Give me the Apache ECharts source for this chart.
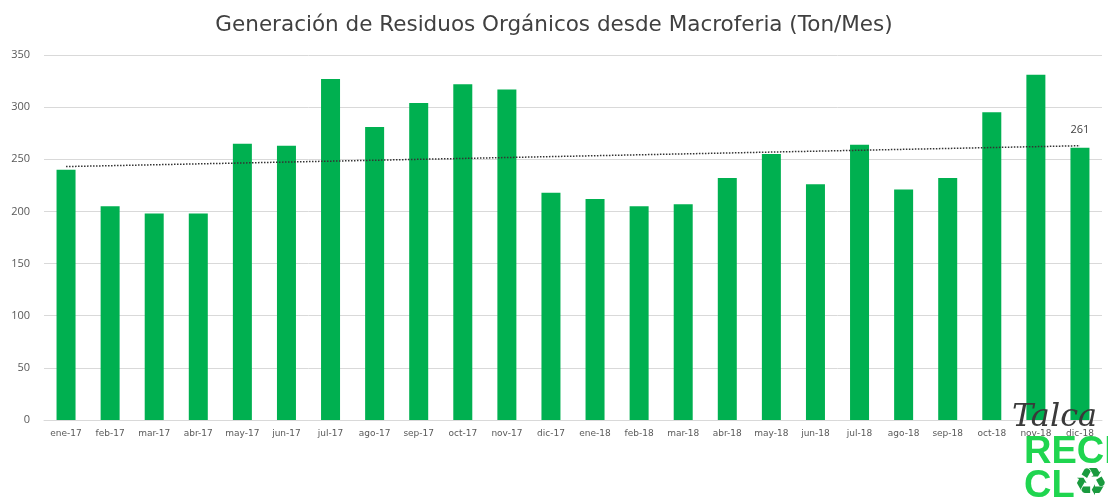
<!DOCTYPE html>
<html>
<head>
<meta charset="utf-8">
<script src="https://cdn.jsdelivr.net/npm/echarts@6/dist/echarts.min.js"></script>
<style>
  html, body { margin: 0; padding: 0; background: #fff; }
  #chart { width: 1108px; height: 504px; }
</style>
</head>
<body>
<div id="chart"></div>
<script>
// categorias (meses)
var months = ['ene-17', 'feb-17', 'mar-17', 'abr-17', 'may-17', 'jun-17', 'jul-17', 'ago-17',
  'sep-17', 'oct-17', 'nov-17', 'dic-17', 'ene-18', 'feb-18', 'mar-18', 'abr-18',
  'may-18', 'jun-18', 'jul-18', 'ago-18', 'sep-18', 'oct-18', 'nov-18', 'dic-18'];

// toneladas por mes
var tons = [240, 205, 198, 198, 265, 263, 327, 281, 304, 322, 317, 218,
  212, 205, 207, 232, 255, 226, 264, 221, 232, 295, 331, 261];

// linea de tendencia (inicio / fin)
var trendEnds = [243, 263];

var yTicks = { min: 0, max: 350, step: 50 };

var chart = echarts.init(document.getElementById('chart'));

var option = {
  animation: false,
  backgroundColor: '#fff',
  title: {
    text: 'Generación de Residuos Orgánicos desde Macroferia (Ton/Mes)',
    left: 'center',
    top: 9,
    textStyle: {
      fontFamily: 'DejaVu Sans',
      fontSize: 21.5,
      fontWeight: 'normal',
      color: '#404040'
    }
  },
  grid: {
    left: 44,
    right: 6,
    top: 55,
    bottom: 84,
    containLabel: false
  },
  xAxis: {
    type: 'category',
    data: months,
    axisLine: { lineStyle: { color: '#d9d9d9', width: 1 } },
    axisTick: { show: false },
    axisLabel: {
      interval: 0,
      fontSize: 9,
      fontFamily: 'DejaVu Sans',
      color: '#595959',
      margin: 9
    }
  },
  yAxis: {
    type: 'value',
    min: yTicks.min,
    max: yTicks.max,
    interval: yTicks.step,
    axisLine: { show: false },
    axisTick: { show: false },
    splitLine: { lineStyle: { color: '#d9d9d9', width: 1 } },
    axisLabel: {
      fontSize: 11,
      fontFamily: 'Open Sans',
      color: '#595959',
      margin: 14
    }
  },
  series: [{
    type: 'bar',
    data: tons.map(function (v, i) {
      return {
        value: v,
        label: { show: i === tons.length - 1 }
      };
    }),
    barWidth: 19,
    itemStyle: { color: '#00b050' },
    label: {
      position: 'top',
      fontSize: 11,
      fontFamily: 'Open Sans',
      color: '#404040',
      distance: 12
    },
    markLine: {
      silent: true,
      symbol: 'none',
      label: { show: false },
      lineStyle: { type: 'dotted', color: '#333', width: 1.5 },
      data: [[
        { coord: [months[0], trendEnds[0]] },
        { coord: [months[months.length - 1], trendEnds[1]] }
      ]]
    }
  }],
  graphic: [
    {
      type: 'text',
      left: 1012,
      top: 402,
      z: 100,
      style: {
        text: 'Talca',
        font: 'italic 32px "DejaVu Serif"',
        fill: '#3a3a3a'
      }
    },
    {
      type: 'text',
      left: 1024,
      top: 434,
      z: 100,
      style: {
        text: 'RECI',
        font: 'bold 38px "Liberation Sans"',
        fill: '#1fd54f'
      }
    },
    {
      type: 'text',
      left: 1024,
      top: 468,
      z: 100,
      style: {
        text: 'CL',
        font: 'bold 38px "Liberation Sans"',
        fill: '#1fd54f'
      }
    },
    {
      type: 'text',
      left: 1074,
      top: 466,
      z: 100,
      style: {
        text: '\u267B',
        font: 'bold 38px "DejaVu Sans"',
        fill: '#1a9a3e'
      }
    }
  ]
};

chart.setOption(option);
</script>
</body>
</html>
